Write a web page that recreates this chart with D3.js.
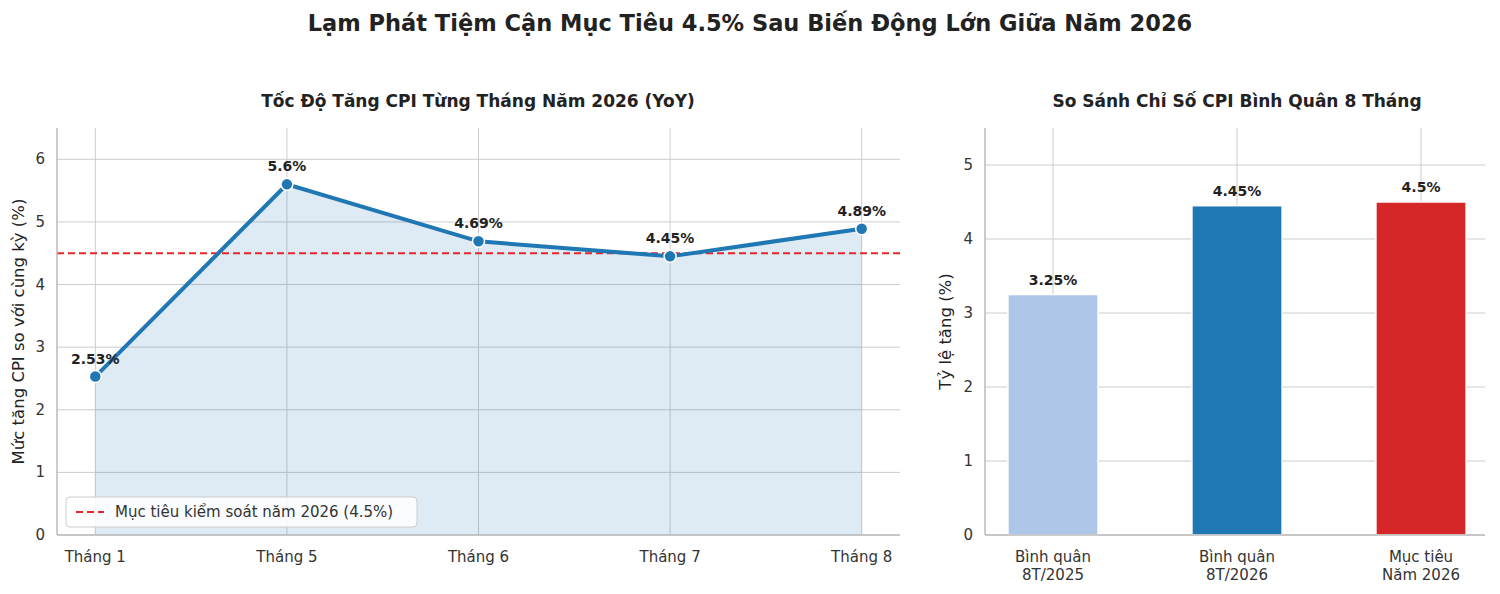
<!DOCTYPE html>
<html><head><meta charset="utf-8">
<script src="https://cdn.jsdelivr.net/npm/d3@7"></script>
<style>body{margin:0;background:#fff}text{font-family:"DejaVu Sans",sans-serif}</style>
</head><body><svg id="c" width="1500" height="594"></svg>
<script>
const months=["Tháng 1","Tháng 5","Tháng 6","Tháng 7","Tháng 8"];
const cpi=[2.53,5.6,4.69,4.45,4.89];
const target=4.5;
const barCats=[["Bình quân","8T/2025"],["Bình quân","8T/2026"],["Mục tiêu","Năm 2026"]];
const barVals=[3.25,4.45,4.5];
const barColors=["#aec7e8","#1f77b4","#d62728"];
const yTicksL=[0,1,2,3,4,5,6];
const yTicksR=[0,1,2,3,4,5];

const svg=d3.select("#c");
const grid="#cccccc",tc="#333";
svg.append("text").attr("x",750).attr("y",31).attr("text-anchor","middle").attr("font-size",22.5).attr("font-weight","bold").attr("fill","#222").text("Lạm Phát Tiệm Cận Mục Tiêu 4.5% Sau Biến Động Lớn Giữa Năm 2026");

// Left
const L={x0:57,x1:900,y0:535,y1:128};
const x=d3.scalePoint().domain(months).range([L.x0,L.x1]).padding(0.2);
const y=d3.scaleLinear().domain([0,6.5]).range([L.y0,L.y1]);
const g=svg.append("g");
yTicksL.forEach(t=>g.append("line").attr("x1",L.x0).attr("x2",L.x1).attr("y1",y(t)).attr("y2",y(t)).attr("stroke",grid));
months.forEach(m=>g.append("line").attr("x1",x(m)).attr("x2",x(m)).attr("y1",L.y0).attr("y2",L.y1).attr("stroke",grid));
g.append("path").datum(cpi).attr("d",d3.area().x((d,i)=>x(months[i])).y0(y(0)).y1(d=>y(d))).attr("fill","#1f77b4").attr("fill-opacity",0.15);
g.append("line").attr("x1",L.x0).attr("x2",L.x1).attr("y1",y(target)).attr("y2",y(target)).attr("stroke","#e8262a").attr("stroke-width",2).attr("stroke-dasharray","7,4");
g.append("path").datum(cpi).attr("d",d3.line().x((d,i)=>x(months[i])).y(d=>y(d))).attr("fill","none").attr("stroke","#1f77b4").attr("stroke-width",4);
cpi.forEach((v,i)=>{
 g.append("circle").attr("cx",x(months[i])).attr("cy",y(v)).attr("r",6).attr("fill","#1f77b4").attr("stroke","#fff").attr("stroke-width",1.5);
 g.append("text").attr("x",x(months[i])).attr("y",y(v)-13).attr("text-anchor","middle").attr("font-size",14).attr("font-weight","bold").attr("fill","#222").text(v+"%");
});
g.append("line").attr("x1",L.x0).attr("x2",L.x0).attr("y1",L.y0).attr("y2",L.y1).attr("stroke","#bbb").attr("stroke-width",1.5);
g.append("line").attr("x1",L.x0).attr("x2",L.x1).attr("y1",L.y0).attr("y2",L.y0).attr("stroke","#bbb").attr("stroke-width",1.5);
yTicksL.forEach(t=>g.append("text").attr("x",L.x0-12).attr("y",y(t)+5).attr("text-anchor","end").attr("font-size",15).attr("fill",tc).text(t));
months.forEach(m=>g.append("text").attr("x",x(m)).attr("y",562).attr("text-anchor","middle").attr("font-size",15).attr("fill",tc).text(m));
g.append("text").attr("transform",`translate(24,${(L.y0+L.y1)/2}) rotate(-90)`).attr("text-anchor","middle").attr("font-size",16.5).attr("fill","#222").text("Mức tăng CPI so với cùng kỳ (%)");
g.append("text").attr("x",478).attr("y",107).attr("text-anchor","middle").attr("font-size",17).attr("font-weight","bold").attr("fill","#222").text("Tốc Độ Tăng CPI Từng Tháng Năm 2026 (YoY)");
g.append("rect").attr("x",66).attr("y",497).attr("width",351).attr("height",30).attr("rx",4).attr("fill","#fff").attr("fill-opacity",0.85).attr("stroke","#ccc");
g.append("line").attr("x1",76).attr("x2",104).attr("y1",512).attr("y2",512).attr("stroke","#e8262a").attr("stroke-width",2).attr("stroke-dasharray","7,4");
g.append("text").attr("x",115).attr("y",517).attr("font-size",15).attr("fill",tc).text("Mục tiêu kiểm soát năm 2026 (4.5%)");

// Right
const R={x0:985,x1:1485,y0:535,y1:128};
const xb=d3.scaleBand().domain(d3.range(3)).range([961,1513]).paddingInner(0.51).paddingOuter(0.255);
const yb=d3.scaleLinear().domain([0,5.5]).range([R.y0,R.y1]);
const h=svg.append("g");
yTicksR.forEach(t=>h.append("line").attr("x1",R.x0).attr("x2",R.x1).attr("y1",yb(t)).attr("y2",yb(t)).attr("stroke",grid));
d3.range(3).forEach(i=>h.append("line").attr("x1",xb(i)+xb.bandwidth()/2).attr("x2",xb(i)+xb.bandwidth()/2).attr("y1",R.y0).attr("y2",R.y1).attr("stroke",grid));
barVals.forEach((v,i)=>{
 h.append("rect").attr("x",xb(i)).attr("width",xb.bandwidth()).attr("y",yb(v)).attr("height",yb(0)-yb(v)).attr("fill",barColors[i]).attr("stroke","#fff").attr("stroke-width",1.5);
 h.append("text").attr("x",xb(i)+xb.bandwidth()/2).attr("y",yb(v)-10).attr("text-anchor","middle").attr("font-size",14).attr("font-weight","bold").attr("fill","#222").text(v+"%");
 barCats[i].forEach((s,k)=>h.append("text").attr("x",xb(i)+xb.bandwidth()/2).attr("y",562+k*18).attr("text-anchor","middle").attr("font-size",15).attr("fill",tc).text(s));
});
h.append("line").attr("x1",R.x0).attr("x2",R.x0).attr("y1",R.y0).attr("y2",R.y1).attr("stroke","#bbb").attr("stroke-width",1.5);
h.append("line").attr("x1",R.x0).attr("x2",R.x1).attr("y1",R.y0).attr("y2",R.y0).attr("stroke","#bbb").attr("stroke-width",1.5);
yTicksR.forEach(t=>h.append("text").attr("x",R.x0-12).attr("y",yb(t)+5).attr("text-anchor","end").attr("font-size",15).attr("fill",tc).text(t));
h.append("text").attr("transform",`translate(951,${(R.y0+R.y1)/2}) rotate(-90)`).attr("text-anchor","middle").attr("font-size",16.5).attr("fill","#222").text("Tỷ lệ tăng (%)");
h.append("text").attr("x",1237).attr("y",107).attr("text-anchor","middle").attr("font-size",17).attr("font-weight","bold").attr("fill","#222").text("So Sánh Chỉ Số CPI Bình Quân 8 Tháng");
</script></body></html>
